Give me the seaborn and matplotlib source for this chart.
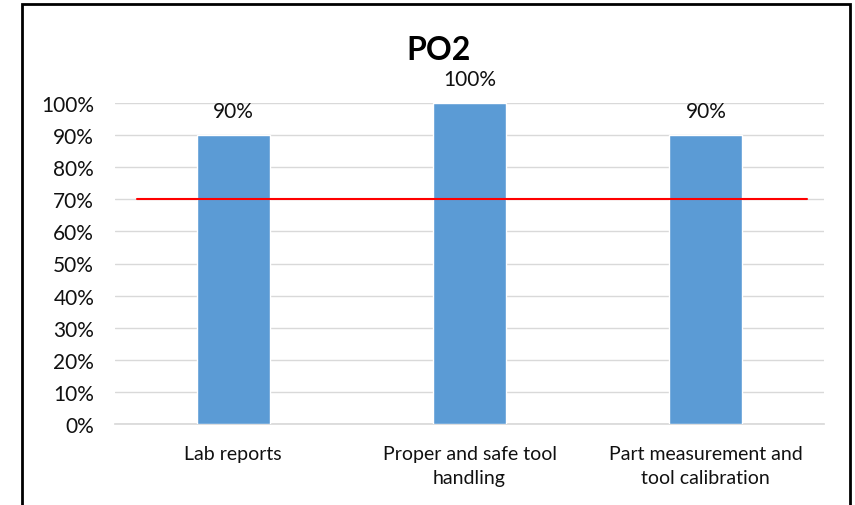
import matplotlib
matplotlib.use("Agg")
import matplotlib.pyplot as plt
import seaborn as sns
import pandas as pd
from matplotlib.patches import Rectangle

categories = ["Lab reports", "Proper and safe tool\nhandling", "Part measurement and\ntool calibration"]
scores = [90, 100, 90]
value_labels = ["90%", "100%", "90%"]
target = 70
yticks = list(range(0, 101, 10))

sns.set_theme(style="white")
plt.rcParams["font.family"] = ["Lato", "DejaVu Sans"]

fig = plt.figure(figsize=(8.55, 5.06), dpi=100)
ax = fig.add_axes([115 / 855, 1 - 425 / 506, (824 - 115) / 855, (425 - 104) / 506])

df = pd.DataFrame({"category": categories, "score": scores})
sns.barplot(data=df, x="category", y="score", color="#5B9BD5", width=0.31,
            saturation=1, ax=ax, zorder=3)

ax.set_ylim(0, 100)
ax.set_xlim(-0.5, 2.5)
ax.set_yticks(yticks)
ax.set_yticklabels([f"{t}%" for t in yticks], fontsize=15, color="#111111")
ax.set_xticks(range(len(categories)))
ax.set_xticklabels(categories, fontsize=14, linespacing=1.5, color="#111111")
ax.tick_params(axis="x", length=0, pad=15)
ax.tick_params(axis="y", length=0, pad=15)
ax.grid(axis="y", color="#D9D9D9", linewidth=1, zorder=0)
ax.set_axisbelow(True)
for s in ["left", "right", "top"]:
    ax.spines[s].set_visible(False)
ax.spines["bottom"].set_color("#D9D9D9")
ax.set_xlabel("")
ax.set_ylabel("")

# target line at 70%
ax.plot([-0.407, 2.428], [target, target], color="red", linewidth=1.5, zorder=4)

for i, (v, lab) in enumerate(zip(scores, value_labels)):
    ax.text(i, v + 7.5, lab, ha="center", va="center", fontsize=15, color="#111111")

fig.text(439 / 855, 1 - 50 / 506, "PO2", ha="center", va="center",
         fontsize=23, fontweight="bold", color="black")

# chart frame, open at the bottom like the cropped reference
fig.patches.append(Rectangle((22 / 855, -0.05), (850 - 22) / 855, 1 - 5 / 506 + 0.05,
                             transform=fig.transFigure, fill=False,
                             edgecolor="black", linewidth=2))

fig.savefig("out.png", dpi=100)
